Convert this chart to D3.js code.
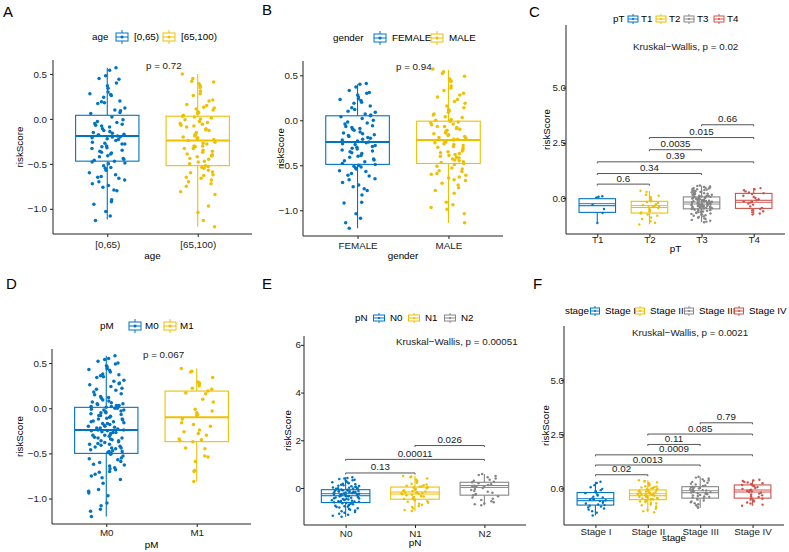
<!DOCTYPE html>
<html>
<head>
<meta charset="utf-8">
<script src="https://cdn.jsdelivr.net/npm/d3@7"></script>
<style>
  body { margin: 0; background: #fff; }
  svg { display: block; font-family: "Liberation Sans", Arial, sans-serif; }
</style>
</head>
<body>
<svg id="chart" width="789" height="552"></svg>
<script>
// jco palette
const COLORS = ["#0073C2", "#EFC000", "#868686", "#CD534C"]

// ---------- A: age ----------
const ageCats = ["[0,65)", "[65,100)"]
const ageLow = [0.57,0.54,0.48,0.45,0.44,0.40,0.37,0.34,0.30,0.28,0.27,0.26,0.24,0.20,0.19,0.18,0.17,0.12,0.10,0.09,0.07,0.06,0.02,
  -0.01,-0.03,-0.04,-0.05,-0.06,-0.07,-0.08,-0.09,-0.11,-0.13,-0.14,-0.15,-0.16,-0.17,-0.18,-0.18,-0.19,-0.20,-0.20,-0.21,-0.22,-0.23,
  -0.24,-0.26,-0.27,-0.28,-0.28,-0.30,-0.31,-0.32,-0.33,-0.35,-0.36,-0.37,-0.38,-0.39,-0.41,-0.42,-0.44,-0.45,-0.46,-0.47,-0.48,-0.49,
  -0.50,-0.52,-0.54,-0.55,-0.57,-0.60,-0.62,-0.64,-0.65,-0.66,-0.68,-0.70,-0.72,-0.74,-0.76,-0.79,-0.80,-0.90,-0.92,-0.95,-1.03,-1.08,-1.13]
const ageHigh = [0.50,0.45,0.42,0.41,0.39,0.37,0.35,0.31,0.28,0.26,0.21,0.20,0.16,0.15,0.13,0.12,0.11,0.10,0.08,0.07,0.06,0.04,0.03,0.02,0.01,0.00,
  -0.01,-0.03,-0.04,-0.05,-0.06,-0.07,-0.08,-0.09,-0.11,-0.12,-0.13,-0.15,-0.17,-0.18,-0.19,-0.20,-0.21,-0.22,-0.23,-0.24,-0.26,-0.27,-0.28,
  -0.30,-0.30,-0.31,-0.33,-0.33,-0.35,-0.36,-0.37,-0.39,-0.40,-0.41,-0.41,-0.42,-0.44,-0.45,-0.47,-0.48,-0.50,-0.52,-0.53,-0.54,-0.55,
  -0.57,-0.59,-0.60,-0.62,-0.63,-0.65,-0.66,-0.68,-0.70,-0.72,-0.75,-0.81,-0.84,-0.97,-1.04,-1.13,-1.20]
// [lower whisker, Q1, median, Q3, upper whisker]
const ageBoxes = [[-1.12, -0.47, -0.19, 0.04, 0.57], [-1.20, -0.52, -0.24, 0.03, 0.50]]
const ageTicks = [-1.0, -0.5, 0.0, 0.5]
const ageP = "p = 0.72"

// ---------- B: gender ----------
const genderCats = ["FEMALE", "MALE"]
const female = [0.41,0.40,0.37,0.33,0.31,0.30,0.28,0.26,0.24,0.23,0.22,0.20,0.19,0.16,0.14,0.12,0.10,0.09,0.07,0.06,0.05,0.04,0.02,0.00,
  -0.02,-0.03,-0.04,-0.06,-0.07,-0.08,-0.09,-0.10,-0.11,-0.13,-0.14,-0.15,-0.16,-0.17,-0.18,-0.19,-0.20,-0.21,-0.22,-0.23,-0.24,-0.25,
  -0.26,-0.27,-0.28,-0.29,-0.30,-0.31,-0.32,-0.33,-0.34,-0.35,-0.36,-0.37,-0.39,-0.40,-0.41,-0.43,-0.44,-0.45,-0.46,-0.48,-0.49,
  -0.50,-0.51,-0.52,-0.53,-0.54,-0.56,-0.57,-0.59,-0.61,-0.62,-0.65,-0.66,-0.69,-0.72,-0.74,-0.76,-0.78,-0.83,-0.91,-0.92,-1.04,-1.09,-1.14,-1.20]
const male = [0.57,0.54,0.52,0.49,0.46,0.44,0.43,0.38,0.36,0.33,0.30,0.28,0.26,0.23,0.21,0.19,0.16,0.14,0.12,0.11,0.09,0.07,0.06,0.04,0.03,0.01,
  0.00,-0.01,-0.02,-0.03,-0.04,-0.05,-0.07,-0.07,-0.08,-0.09,-0.10,-0.11,-0.12,-0.13,-0.14,-0.15,-0.16,-0.17,-0.18,-0.19,-0.20,-0.21,-0.21,
  -0.22,-0.23,-0.24,-0.25,-0.26,-0.27,-0.28,-0.29,-0.30,-0.31,-0.33,-0.34,-0.35,-0.36,-0.37,-0.38,-0.39,-0.40,-0.41,-0.42,-0.43,-0.44,-0.45,
  -0.46,-0.47,-0.48,-0.49,-0.51,-0.53,-0.54,-0.56,-0.57,-0.59,-0.60,-0.61,-0.63,-0.64,-0.66,-0.67,-0.70,-0.72,-0.75,-0.78,-0.81,-0.91,-0.94,-0.97,-0.99,-1.04,-1.14]
const genderBoxes = [[-1.20, -0.49, -0.24, 0.05, 0.40], [-1.14, -0.48, -0.22, -0.01, 0.56]]
const genderTicks = [-1.0, -0.5, 0.0, 0.5]
const genderP = "p = 0.94"

// ---------- C: pT ----------
const ptCats = ["T1", "T2", "T3", "T4"]
const t1 = [0.08, 0.06, 0.02, -0.30, -0.50, -0.68, -1.13]
const t2 = [0.33,0.28,0.15,0.10,0.05,0.02,-0.05,-0.10,-0.15,-0.18,-0.22,-0.28,-0.32,-0.35,-0.38,-0.40,-0.42,-0.45,-0.50,-0.55,
  -0.60,-0.65,-0.70,-0.75,-0.80,-0.88,-0.95,-1.05,-1.12,-1.20]
const t3 = [0.57,0.55,0.52,0.50,0.48,0.46,0.45,0.43,0.41,0.40,0.38,0.36,0.34,0.33,0.31,0.29,0.28,0.26,0.25,0.23,0.22,0.20,0.19,0.17,
  0.16,0.15,0.14,0.12,0.11,0.10,0.09,0.08,0.07,0.06,0.06,0.05,0.04,0.03,0.02,0.01,0.00,-0.01,-0.02,-0.03,-0.04,-0.05,-0.06,-0.07,
  -0.08,-0.09,-0.10,-0.11,-0.12,-0.12,-0.13,-0.14,-0.15,-0.16,-0.17,-0.17,-0.18,-0.19,-0.20,-0.20,-0.21,-0.22,-0.22,-0.23,-0.24,
  -0.25,-0.25,-0.26,-0.27,-0.28,-0.29,-0.30,-0.30,-0.31,-0.32,-0.33,-0.34,-0.35,-0.35,-0.36,-0.37,-0.38,-0.39,-0.40,-0.40,-0.41,
  -0.42,-0.43,-0.44,-0.45,-0.45,-0.46,-0.47,-0.48,-0.49,-0.50,-0.52,-0.53,-0.55,-0.56,-0.58,-0.60,-0.61,-0.63,-0.65,-0.66,-0.68,
  -0.70,-0.72,-0.74,-0.76,-0.78,-0.80,-0.83,-0.86,-0.89,-0.92,-0.95,-0.99,-1.03,-1.07,-1.10]
const t4 = [0.45,0.40,0.35,0.30,0.25,0.22,0.18,0.10,0.05,0.00,-0.05,-0.10,-0.15,-0.18,-0.20,-0.25,-0.30,-0.38,-0.45,-0.50,
  -0.55,-0.60,-0.65,-0.70,-0.75]
const ptBoxes = [[-1.13, -0.65, -0.30, -0.03, 0.08], [-1.20, -0.68, -0.38, -0.15, 0.33],
  [-1.10, -0.49, -0.23, 0.05, 0.57], [-0.75, -0.47, -0.15, 0.21, 0.45]]
const ptTicks = [0.0, 2.5, 5.0]
const ptKW = "Kruskal\u2212Wallis, p = 0.02"
// [group a, group b, bracket height, label]
const ptBrackets = [[1, 2, 0.63, "0.6"], [1, 3, 1.11, "0.34"], [1, 4, 1.64, "0.39"],
  [2, 3, 2.19, "0.0035"], [2, 4, 2.74, "0.015"], [3, 4, 3.32, "0.66"]]

// ---------- D: pM ----------
const pmCats = ["M0", "M1"]
const m0 = [0.58,0.55,0.54,0.52,0.50,0.49,0.47,0.46,0.44,0.43,0.42,0.40,0.38,0.37,0.36,0.35,0.34,0.31,0.30,0.28,0.27,0.26,0.24,
  0.22,0.21,0.20,0.18,0.16,0.15,0.13,0.12,0.11,0.09,0.08,0.07,0.06,0.05,0.05,0.04,0.03,0.03,0.02,0.02,0.01,
  0.00,0.00,-0.01,-0.02,-0.02,-0.03,-0.04,-0.05,-0.05,-0.06,-0.07,-0.08,-0.08,-0.09,-0.10,-0.11,-0.12,-0.12,-0.13,-0.14,-0.15,
  -0.15,-0.16,-0.17,-0.17,-0.18,-0.19,-0.20,-0.20,-0.21,-0.22,-0.22,-0.23,-0.24,-0.24,-0.25,-0.25,-0.26,-0.27,-0.27,-0.28,-0.29,
  -0.30,-0.30,-0.31,-0.32,-0.33,-0.33,-0.34,-0.35,-0.36,-0.36,-0.37,-0.38,-0.39,-0.40,-0.40,-0.41,-0.42,-0.43,-0.44,-0.44,-0.45,
  -0.46,-0.47,-0.48,-0.48,-0.49,-0.50,-0.51,-0.53,-0.55,-0.56,-0.57,-0.59,-0.60,-0.62,-0.63,-0.64,-0.66,-0.67,-0.68,-0.70,-0.71,
  -0.73,-0.75,-0.77,-0.79,-0.83,-0.90,-0.92,-0.94,-0.97,-1.05,-1.08,-1.12,-1.14,-1.20]
const m1 = [0.44,0.41,0.40,0.34,0.29,0.28,0.28,0.27,0.25,0.22,0.21,0.19,0.17,0.16,0.10,0.07,-0.01,-0.03,-0.05,-0.07,-0.08,-0.12,
  -0.16,-0.18,-0.20,-0.24,-0.26,-0.28,-0.30,-0.34,-0.35,-0.36,-0.37,-0.44,-0.45,-0.53,-0.54,-0.59,-0.69,-0.70,-0.81]
const pmBoxes = [[-1.20, -0.50, -0.24, 0.01, 0.58], [-0.81, -0.37, -0.10, 0.19, 0.44]]
const pmTicks = [-1.0, -0.5, 0.0, 0.5]
const pmP = "p = 0.067"

// ---------- E: pN ----------
const pnCats = ["N0", "N1", "N2"]
const n0 = [0.45,0.42,0.40,0.38,0.35,0.33,0.30,0.28,0.26,0.24,0.22,0.20,0.18,0.16,0.14,0.12,0.10,0.08,0.07,0.05,0.04,0.02,0.01,0.00,
  -0.01,-0.02,-0.03,-0.04,-0.05,-0.06,-0.07,-0.08,-0.09,-0.10,-0.11,-0.12,-0.13,-0.14,-0.15,-0.16,-0.17,-0.18,-0.19,-0.19,-0.20,
  -0.21,-0.22,-0.23,-0.24,-0.25,-0.25,-0.26,-0.27,-0.28,-0.29,-0.30,-0.31,-0.33,-0.34,-0.35,-0.36,-0.38,-0.39,-0.40,-0.41,-0.43,
  -0.44,-0.45,-0.46,-0.48,-0.49,-0.50,-0.51,-0.53,-0.54,-0.55,-0.56,-0.58,-0.59,-0.60,-0.62,-0.64,-0.66,-0.68,-0.70,-0.72,-0.74,
  -0.76,-0.78,-0.80,-0.82,-0.85,-0.88,-0.91,-0.94,-0.97,-1.00,-1.04,-1.08,-1.12,-1.16,-1.20]
const n1 = [0.50,0.48,0.45,0.40,0.36,0.32,0.28,0.25,0.22,0.18,0.15,0.12,0.09,0.06,0.05,0.03,0.01,-0.01,-0.03,-0.05,-0.07,-0.09,
  -0.11,-0.13,-0.15,-0.17,-0.19,-0.20,-0.21,-0.22,-0.24,-0.26,-0.28,-0.30,-0.32,-0.34,-0.36,-0.38,-0.40,-0.42,-0.44,-0.46,
  -0.48,-0.52,-0.55,-0.58,-0.62,-0.66,-0.70,-0.75,-0.80,-0.86,-0.92,-0.96]
const n2 = [0.59,0.55,0.50,0.45,0.40,0.35,0.30,0.26,0.24,0.20,0.16,0.13,0.10,0.08,0.06,0.04,0.00,-0.04,-0.08,-0.12,-0.16,-0.20,
  -0.25,-0.28,-0.30,-0.34,-0.40,-0.45,-0.50,-0.55,-0.60,-0.65,-0.68,-0.72]
const pnBoxes = [[-1.20, -0.61, -0.28, -0.07, 0.45], [-0.96, -0.47, -0.21, 0.04, 0.50], [-0.72, -0.30, 0.06, 0.24, 0.59]]
const pnTicks = [0, 2, 4, 6]
const pnKW = "Kruskal\u2212Wallis, p = 0.00051"
const pnBrackets = [[1, 2, 0.63, "0.13"], [1, 3, 1.20, "0.00011"], [2, 3, 1.78, "0.026"]]

// ---------- F: stage ----------
const stageCats = ["Stage I", "Stage II", "Stage III", "Stage IV"]
const s1 = [0.31,0.25,0.15,0.05,-0.02,-0.08,-0.12,-0.16,-0.19,-0.22,-0.28,-0.33,-0.38,-0.42,-0.46,-0.50,-0.52,-0.55,-0.58,-0.62,
  -0.66,-0.70,-0.74,-0.77,-0.80,-0.84,-0.88,-0.93,-0.98,-1.05,-1.12,-1.25]
const s2 = [0.38,0.35,0.32,0.28,0.25,0.22,0.19,0.16,0.13,0.10,0.08,0.06,0.04,0.02,0.00,-0.02,-0.04,-0.06,-0.07,-0.09,-0.10,-0.12,
  -0.13,-0.15,-0.16,-0.18,-0.19,-0.21,-0.22,-0.24,-0.25,-0.27,-0.28,-0.29,-0.30,-0.31,-0.33,-0.34,-0.35,-0.37,-0.38,-0.40,-0.41,
  -0.43,-0.44,-0.46,-0.47,-0.49,-0.50,-0.52,-0.54,-0.57,-0.60,-0.63,-0.66,-0.70,-0.74,-0.78,-0.83,-0.88,-0.94,-1.00,-1.05,-1.10]
const s3 = [0.54,0.50,0.46,0.42,0.38,0.34,0.30,0.26,0.22,0.18,0.14,0.11,0.08,0.06,0.04,0.02,0.00,-0.02,-0.04,-0.06,-0.08,-0.10,
  -0.12,-0.14,-0.15,-0.17,-0.19,-0.21,-0.23,-0.25,-0.27,-0.30,-0.32,-0.35,-0.37,-0.40,-0.42,-0.45,-0.48,-0.52,-0.56,-0.60,
  -0.64,-0.68,-0.73,-0.78,-0.84,-0.89]
const s4 = [0.40,0.37,0.34,0.30,0.27,0.24,0.20,0.16,0.13,0.10,0.06,0.02,-0.02,-0.06,-0.09,-0.12,-0.14,-0.17,-0.20,-0.24,-0.28,
  -0.32,-0.36,-0.40,-0.45,-0.48,-0.52,-0.56,-0.60,-0.65,-0.70,-0.75,-0.80]
const stageBoxes = [[-1.25, -0.77, -0.52, -0.19, 0.31], [-1.10, -0.52, -0.29, -0.07, 0.38],
  [-0.89, -0.45, -0.15, 0.08, 0.54], [-0.80, -0.45, -0.12, 0.16, 0.40]]
const stageTicks = [0.0, 2.5, 5.0]
const stageKW = "Kruskal\u2212Wallis, p = 0.0021"
const stageBrackets = [[1, 2, 0.63, "0.02"], [1, 3, 1.08, "0.0013"], [1, 4, 1.55, "0.0009"],
  [2, 3, 2.03, "0.11"], [2, 4, 2.51, "0.085"], [3, 4, 3.03, "0.79"]]

// ---------- layout ----------
const FS = 9.8
const svg = d3.select("#chart")

const panels = [
  { letter: "A", lx: 3, ly: 17, title: "age", cats: ageCats, groups: [ageLow, ageHigh], boxes: ageBoxes,
    ticks: ageTicks, fmt: ".1f", yDomain: [-1.28, 0.655], x0: 53, x1: 252, y0: 60, y1: 234,
    tickGap: 6, xLabGap: 14, xTitleY: 259, yTitleX: 20, r: 1.75, double: false,
    legY: 37, legTitleX: 92, keyX: [122, 169], keyOff: 12, key: [12, 8, 3],
    note: ageP, noteX: 146, noteY: 69 },
  { letter: "B", lx: 262, ly: 15, title: "gender", cats: genderCats, groups: [female, male], boxes: genderBoxes,
    ticks: genderTicks, fmt: ".1f", yDomain: [-1.286, 0.659], x0: 303, x1: 503, y0: 61, y1: 236,
    tickGap: 5, xLabGap: 13, xTitleY: 259, yTitleX: 281, r: 1.75, double: false,
    legY: 38, legTitleX: 333, keyX: [380, 437], keyOff: 12, key: [12, 8, 3],
    note: genderP, noteX: 396, noteY: 69.5 },
  { letter: "C", lx: 529, ly: 17, title: "pT", cats: ptCats, groups: [t1, t2, t3, t4], boxes: ptBoxes,
    ticks: ptTicks, fmt: ".1f", yDomain: [-1.63, 7.84], x0: 566, x1: 785, y0: 25, y1: 234,
    tickGap: 0, xLabGap: 9, xTitleY: 252, yTitleX: 547, r: 1.2, double: true,
    legY: 19, legTitleX: 613, keyX: [633, 661, 689, 719], keyOff: 8, key: [10, 6, 2],
    note: ptKW, noteX: 633, noteY: 49.5, brackets: ptBrackets },
  { letter: "D", lx: 6, ly: 289, title: "pM", cats: pmCats, groups: [m0, m1], boxes: pmBoxes,
    ticks: pmTicks, fmt: ".1f", yDomain: [-1.282, 0.656], x0: 52, x1: 251, y0: 349, y1: 524,
    tickGap: 5, xLabGap: 12, xTitleY: 548, yTitleX: 20, r: 1.75, double: false,
    legY: 326, legTitleX: 100, keyX: [135, 170], keyOff: 10, key: [12, 8, 3],
    note: pmP, noteX: 143, noteY: 358 },
  { letter: "E", lx: 262, ly: 289, title: "pN", cats: pnCats, groups: [n0, n1, n2], boxes: pnBoxes,
    ticks: pnTicks, fmt: "d", yDomain: [-1.55, 6.37], x0: 304, x1: 526, y0: 336, y1: 525,
    tickGap: 3, xLabGap: 11.5, xTitleY: 546, yTitleX: 287.5, r: 1.25, double: true,
    legY: 318, legTitleX: 355, keyX: [379, 414, 450], keyOff: 11, key: [11, 6, 2],
    note: pnKW, noteX: 396, noteY: 345, brackets: pnBrackets },
  { letter: "F", lx: 533, ly: 289, title: "stage", cats: stageCats, groups: [s1, s2, s3, s4], boxes: stageBoxes,
    ticks: stageTicks, fmt: ".1f", yDomain: [-1.69, 7.50], x0: 564, x1: 784, y0: 326, y1: 525,
    tickGap: 0, xLabGap: 10, xTitleY: 541, yTitleX: 546, r: 1.2, double: true,
    legY: 311, legTitleX: 565, keyX: [595, 640, 689, 739], keyOff: 10, key: [9, 6, 2],
    note: stageKW, noteX: 632, noteY: 336, brackets: stageBrackets }
]

// deterministic jitter offset in [0,1) from group and point index
function jitterU(i, j) {
  const s = Math.sin((j + 1) * 12.9898 + (i + 1) * 78.233) * 43758.5453
  return s - Math.floor(s)
}

function legendKey(g, cx, cy, color, size, r) {
  const [w, h, wh] = size
  g.append("line").attr("x1", cx).attr("x2", cx).attr("y1", cy - h / 2 - wh).attr("y2", cy + h / 2 + wh)
    .attr("stroke", color).attr("stroke-width", 1)
  g.append("rect").attr("x", cx - w / 2).attr("y", cy - h / 2).attr("width", w).attr("height", h)
    .attr("fill", "#fff").attr("stroke", color).attr("stroke-width", 1)
  g.append("line").attr("x1", cx - w / 2).attr("x2", cx + w / 2).attr("y1", cy).attr("y2", cy)
    .attr("stroke", color).attr("stroke-width", 1)
  g.append("circle").attr("cx", cx).attr("cy", cy).attr("r", r).attr("fill", color)
}

function drawPanel(p) {
  const g = svg.append("g")
  const n = p.cats.length
  const x = d3.scaleLinear().domain([0.4, n + 0.6]).range([p.x0, p.x1])
  const y = d3.scaleLinear().domain(p.yDomain).range([p.y1, p.y0])
  const hw = x(1.35) - x(1)

  // panel letter
  g.append("text").attr("x", p.lx).attr("y", p.ly).attr("font-size", 15).text(p.letter)

  // legend
  g.append("text").attr("x", p.legTitleX).attr("y", p.legY).attr("dy", "0.35em")
    .attr("font-size", FS).text(p.title)
  p.cats.forEach((c, i) => {
    legendKey(g, p.keyX[i], p.legY, COLORS[i], p.key, p.r * 0.9)
    g.append("text").attr("x", p.keyX[i] + p.keyOff).attr("y", p.legY).attr("dy", "0.35em")
      .attr("font-size", FS).text(c)
  })

  // boxes
  p.boxes.forEach((b, i) => {
    const [lo, q1, med, q3, hi] = b
    const cx = x(i + 1), col = COLORS[i]
    g.append("line").attr("x1", cx).attr("x2", cx).attr("y1", y(hi)).attr("y2", y(q3))
      .attr("stroke", col).attr("stroke-width", 1.1)
    g.append("line").attr("x1", cx).attr("x2", cx).attr("y1", y(q1)).attr("y2", y(lo))
      .attr("stroke", col).attr("stroke-width", 1.1)
    g.append("rect").attr("x", cx - hw).attr("y", y(q3)).attr("width", 2 * hw).attr("height", y(q1) - y(q3))
      .attr("fill", "#fff").attr("stroke", col).attr("stroke-width", 1.1)
    g.append("line").attr("x1", cx - hw).attr("x2", cx + hw).attr("y1", y(med)).attr("y2", y(med))
      .attr("stroke", col).attr("stroke-width", p.double ? 3 : 2)
    if (p.double) {
      g.append("line").attr("x1", cx - hw + 0.6).attr("x2", cx + hw - 0.6).attr("y1", y(med)).attr("y2", y(med))
        .attr("stroke", "#fff").attr("stroke-width", 1)
    }
  })

  // jittered points (jitter width 0.2)
  p.groups.forEach((vals, i) => {
    g.append("g").selectAll("circle").data(vals).join("circle")
      .attr("cx", (d, j) => x(i + 1 + (jitterU(i, j) * 2 - 1) * 0.2))
      .attr("cy", d => y(d))
      .attr("r", p.r)
      .attr("fill", COLORS[i])
  })

  // brackets
  if (p.brackets) {
    p.brackets.forEach(([a, b, h, lab]) => {
      const yy = y(h)
      g.append("path")
        .attr("d", `M${x(a)},${yy + 1.5}V${yy}H${x(b)}V${yy + 1.5}`)
        .attr("fill", "none").attr("stroke", "#555").attr("stroke-width", 1)
      g.append("text").attr("x", (x(a) + x(b)) / 2).attr("y", yy - 2.5)
        .attr("text-anchor", "middle").attr("font-size", FS).attr("fill", "#222").text(lab)
    })
  }

  // annotation
  g.append("text").attr("x", p.noteX).attr("y", p.noteY).attr("font-size", FS).attr("fill", "#222").text(p.note)

  // axes
  const yAxis = g.append("g").attr("transform", `translate(${p.x0},0)`)
    .call(d3.axisLeft(y).tickValues(p.ticks).tickFormat(d3.format(p.fmt)).tickSize(3).tickPadding(p.tickGap ? p.tickGap - 3 : -3))
  const xAxis = g.append("g").attr("transform", `translate(0,${p.y1})`)
    .call(d3.axisBottom(x).tickValues(d3.range(1, n + 1)).tickFormat(i => p.cats[i - 1]).tickSize(3).tickPadding(0))
  ;[yAxis, xAxis].forEach(ax => {
    ax.select(".domain").remove()
    ax.selectAll("line").attr("stroke", "#222")
    ax.selectAll("text").attr("font-size", FS).attr("fill", "#222").attr("font-family", null)
  })
  xAxis.selectAll("text").attr("dy", null).attr("y", p.xLabGap)
  g.append("line").attr("x1", p.x0).attr("x2", p.x0).attr("y1", p.y0).attr("y2", p.y1)
    .attr("stroke", "#222").attr("stroke-width", 1)
  g.append("line").attr("x1", p.x0).attr("x2", p.x1).attr("y1", p.y1).attr("y2", p.y1)
    .attr("stroke", "#222").attr("stroke-width", 1)

  // axis titles
  g.append("text").attr("x", (p.x0 + p.x1) / 2).attr("y", p.xTitleY).attr("text-anchor", "middle")
    .attr("font-size", FS).text(p.title)
  g.append("text").attr("transform", `translate(${p.yTitleX},${(p.y0 + p.y1) / 2}) rotate(-90)`)
    .attr("text-anchor", "middle").attr("dy", "0.35em").attr("font-size", FS).text("riskScore")
}

panels.forEach(drawPanel)
</script>
</body>
</html>
